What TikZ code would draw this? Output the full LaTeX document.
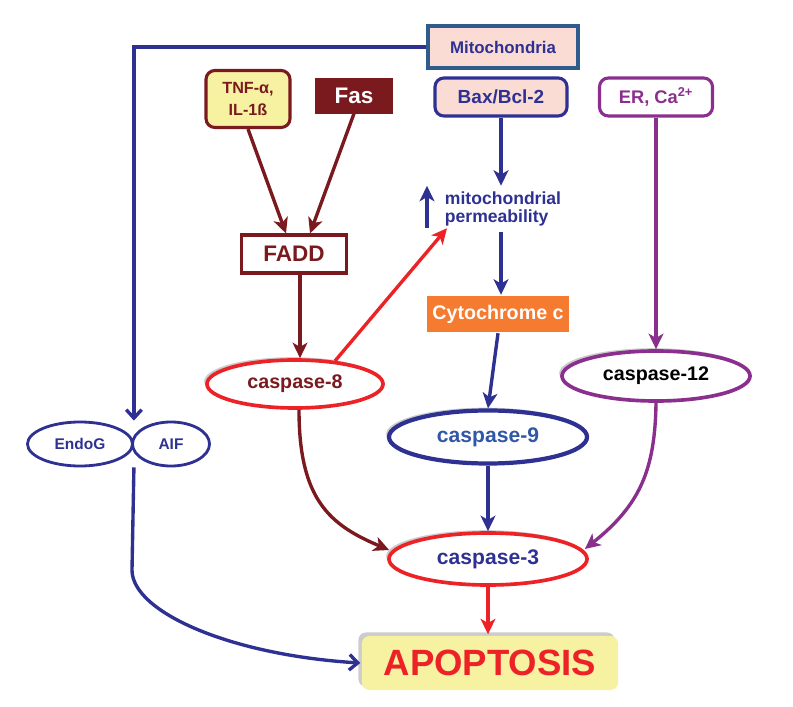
\documentclass[tikz,border=0pt]{standalone}
\usepackage{fontspec}
\setmainfont{Liberation Sans}
\usepackage{tikz}
\usetikzlibrary{shapes.geometric}
\usetikzlibrary{shadows}
\usetikzlibrary{calc}
\usetikzlibrary{arrows.meta}
\definecolor{navy}{HTML}{2E3192}
\definecolor{dred}{HTML}{7B1A1E}
\definecolor{purp}{HTML}{8B2F8F}
\definecolor{bred}{HTML}{EC2227}
\definecolor{orng}{HTML}{F47B2F}
\definecolor{pinkfill}{HTML}{FADCD5}
\definecolor{yelfill}{HTML}{F6F2A2}
\definecolor{steel}{HTML}{2F5C8C}
\definecolor{cblue}{HTML}{3057A8}
\tikzset{fsz/.style={font=\bfseries\fontsize{#1}{#1}\selectfont},
box/.style={draw,line width=2.2pt,inner sep=0pt,align=center},
casp/.style={ellipse,draw,line width=2.6pt,fill=white,inner sep=0pt,drop shadow={shadow xshift=-2pt,shadow yshift=2pt,fill=black!40}},
arr/.style={-{Stealth[length=11pt,width=10.5pt,inset=3pt]}},
open/.style={-{Straight Barb[length=6pt,width=11pt]}}}

\begin{document}
\begin{tikzpicture}[x=0.025cm,y=-0.025cm,line width=2.4pt]
\useasboundingbox (0,0) rectangle (793,707);

\node (mito) at (503,47) [box,draw=steel,fill=pinkfill,text=navy,minimum width=3.75cm,minimum height=1.05cm,fsz=12] {Mitochondria};
\node (tnf) at (248,99) [box,draw=dred,fill=yelfill,text=dred,rounded corners=1.2ex,minimum width=2.1cm,minimum height=1.425cm,font=\bfseries\fontsize{11.5}{15}\selectfont] {TNF-α,\\IL-1ß};
\node (fas) at (354,96) [box,draw=dred,fill=dred,text=white,minimum width=1.85cm,minimum height=0.8cm,fsz=16] {Fas};
\node (bax) at (501,97) [box,draw=navy,fill=pinkfill,text=navy,rounded corners=1.2ex,minimum width=3.3cm,minimum height=0.95cm,fsz=13.5] {Bax/Bcl-2};
\node (er) at (656,97) [box,draw=purp,fill=white,text=purp,rounded corners=1.2ex,minimum width=2.825cm,minimum height=0.95cm,fsz=13] {ER, Ca\textsuperscript{2+}};

\node (fadd) at (294,254) [box,draw=dred,fill=white,text=dred,minimum width=2.625cm,minimum height=0.95cm,fsz=16] {FADD};
\node (perm) at (503,209) [text=navy,align=left,inner sep=3pt,font=\bfseries\fontsize{12.5}{13}\selectfont] {mitochondrial\\permeability};
\node (cyt) at (498,314) [fill=orng,text=white,inner sep=0pt,minimum width=3.55cm,minimum height=0.875cm,fsz=14] {Cytochrome c};

\node (cas8) at (295,384) [casp,draw=bred,text=dred,minimum width=4.4cm,minimum height=1.2cm,fsz=14] {caspase-8};
\node (cas9) at (488,437) [casp,draw=navy,text=cblue,line width=3pt,minimum width=4.95cm,minimum height=1.325cm,fsz=15] {caspase-9};
\node (cas12) at (656,376) [casp,draw=purp,text=black,minimum width=4.7cm,minimum height=1.25cm,fsz=14] {caspase-12};
\node (cas3) at (488,559) [casp,draw=bred,text=navy,minimum width=4.95cm,minimum height=1.3cm,fsz=15] {caspase-3};
\node (apo) at (490,663) [inner sep=0pt,fill=yelfill,rounded corners=1ex,minimum width=6.4cm,minimum height=1.35cm,text=bred,drop shadow={shadow xshift=-2.5pt,shadow yshift=2.5pt,fill=black!40},fsz=26] {APOPTOSIS};

\node (endog) at (80,444) [ellipse,draw=navy,text=navy,line width=2pt,inner sep=0pt,minimum width=2.625cm,minimum height=1.1cm,fsz=11] {EndoG};
\node (aif) at (171,444) [ellipse,draw=navy,text=navy,line width=2pt,inner sep=0pt,minimum width=1.925cm,minimum height=1.1cm,fsz=11] {AIF};

% extrinsic
\draw[dred,arr] (tnf.south) -- ($(fadd.north)+(-8,0)$);
\draw[dred,arr] (fas.south) -- ($(fadd.north)+(16,0)$);
\draw[dred,arr] (fadd.south -| 300,0) -- (cas8.north -| 300,0);
\draw[bred,arr] (cas8.30) -- ($(perm.south west)+(8,-4)$);
\draw[dred,arr] (cas8.south -| 299,0) .. controls (299,500) and (330,525) .. ($(cas3.west)+(2,-9)$);

% intrinsic
\draw[navy,arr] (bax.south) -- (bax.south |- perm.north);
\draw[navy,arr] ($(perm.south west)+(-12,-4)$) -- ($(perm.north west)+(-12,0)$);
\draw[navy,arr] (perm.south -| bax.south) -- (cyt.north -| bax.south);
\draw[navy,arr] (cyt.south) -- (cas9.north);
\draw[navy,arr] (cas9.south) -- (cas3.north);

% ER stress
\draw[purp,arr] (er.south) -- (cas12.north);
\draw[purp,arr] (cas12.south) .. controls (655,470) and (640,505) .. ($(cas3.east)+(-4,-10)$);

\draw[bred,arr,line width=3pt] (cas3.south) -- (cas3.south |- apo.north);

% caspase independent
\draw[navy,open] (mito.west) -| (endog.east |- aif.north);
\draw[navy,open] (endog.east |- aif.south) -- (132,570) .. controls (132,612) and (230,655) .. (apo.west);
\end{tikzpicture}
\end{document}
